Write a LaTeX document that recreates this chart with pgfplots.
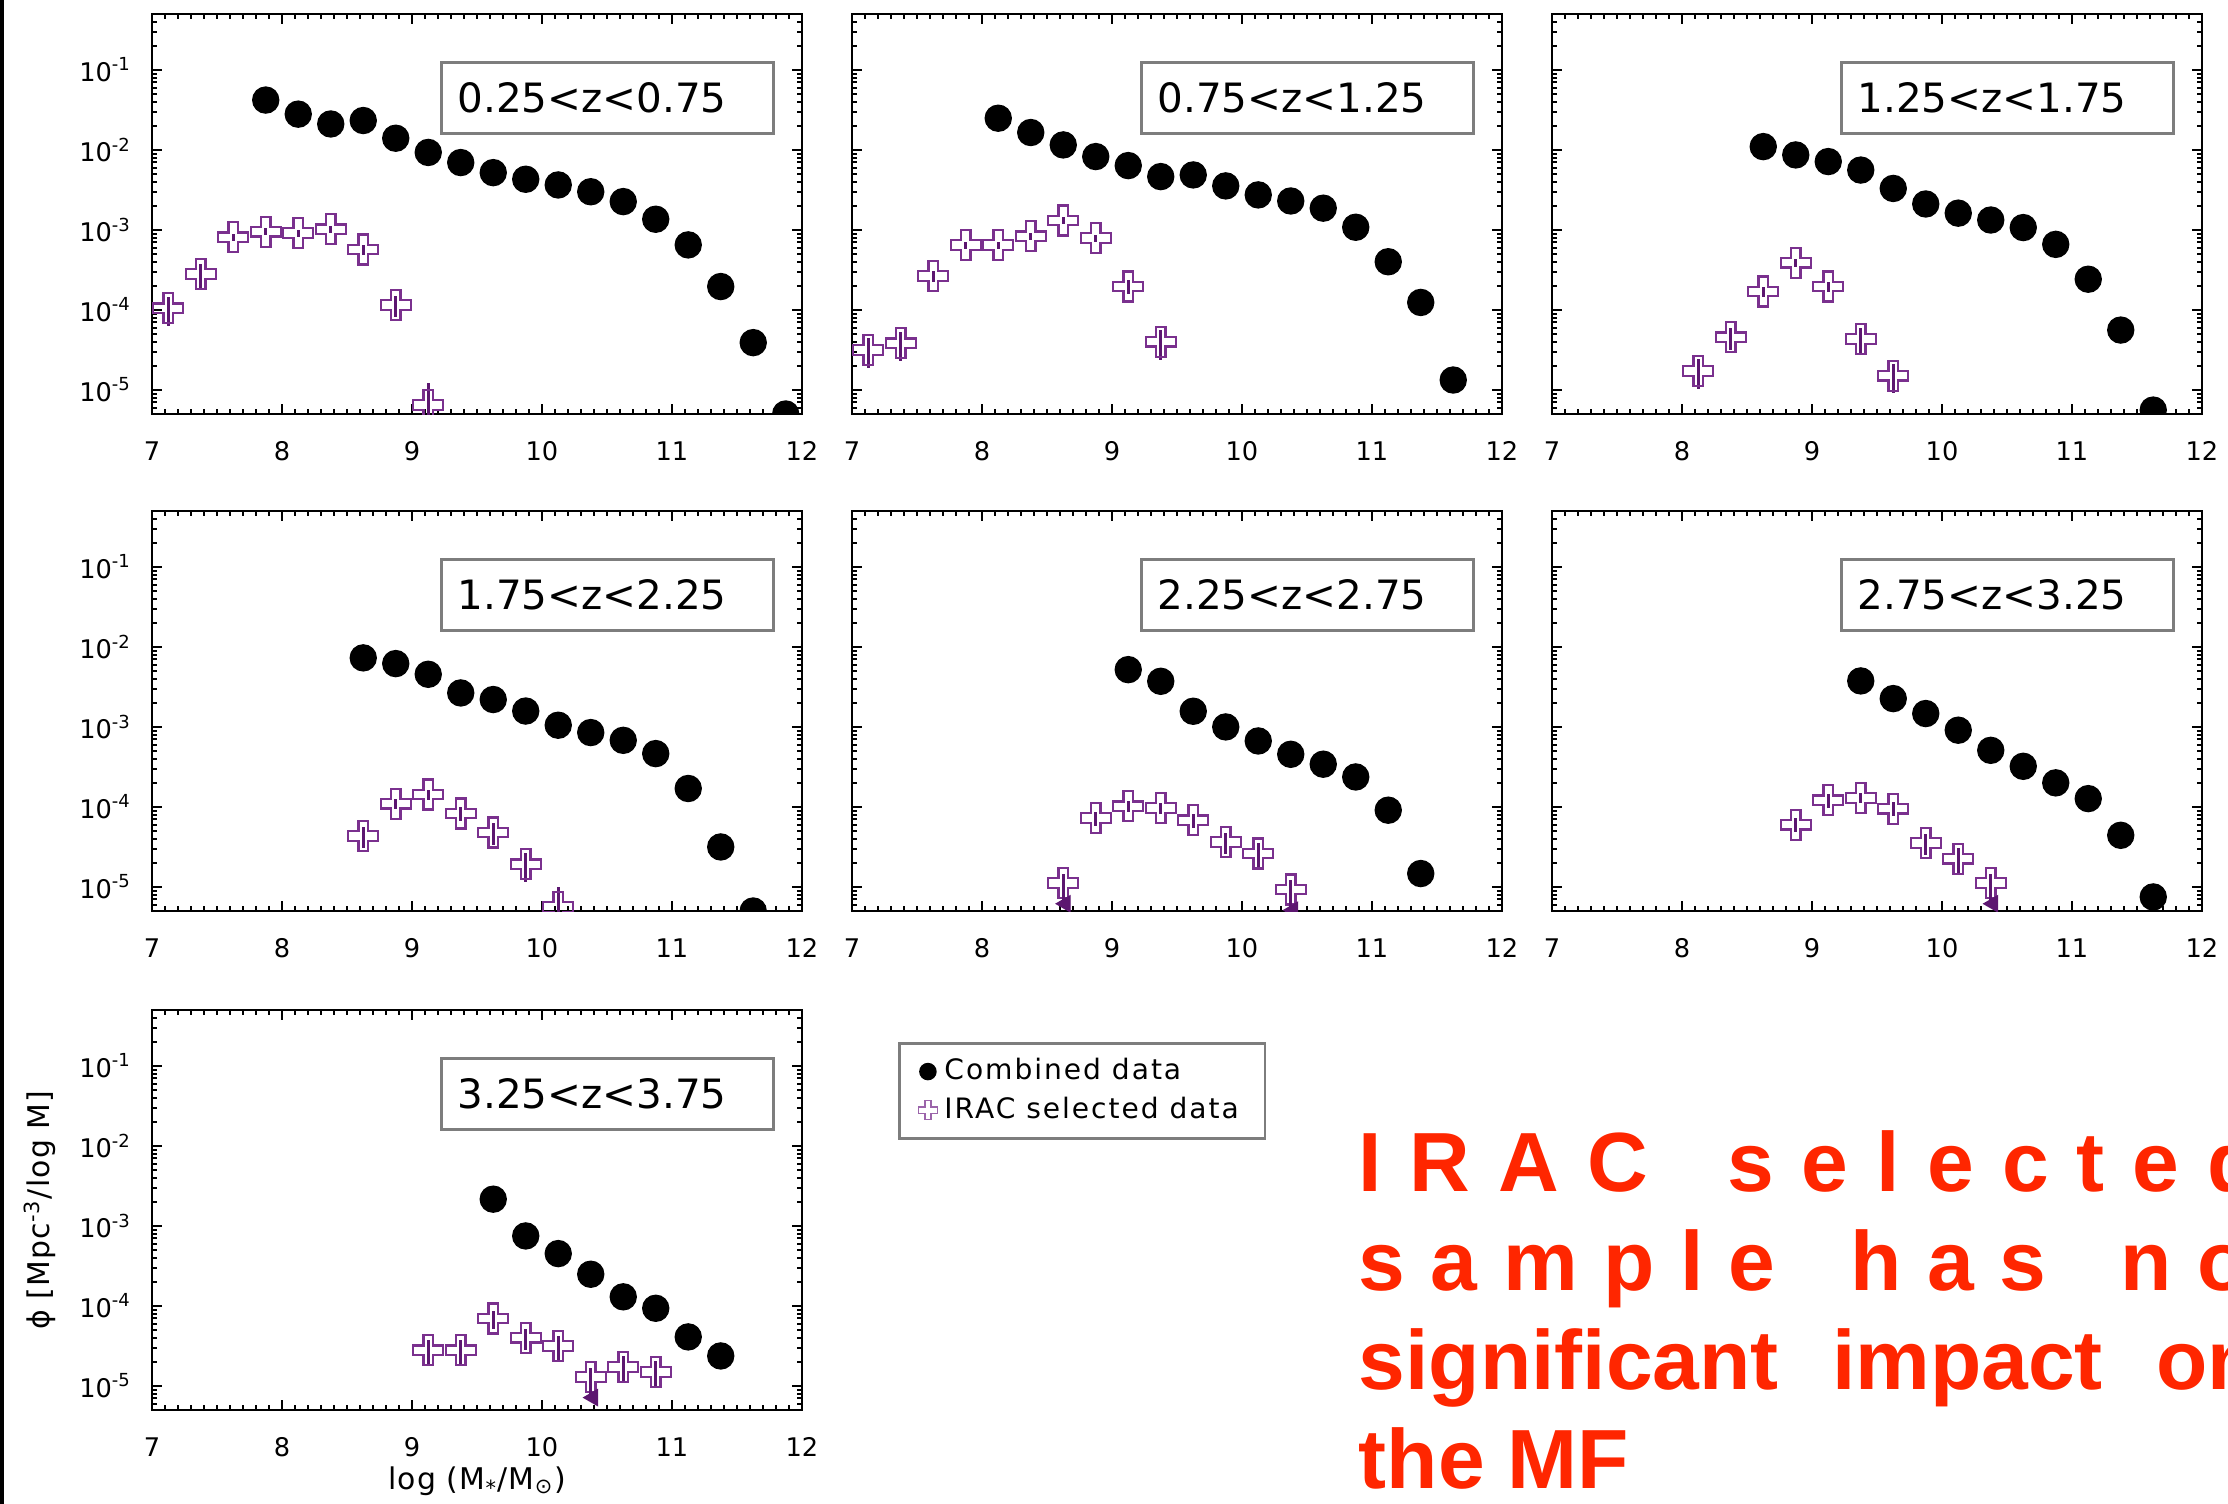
\documentclass[border=0pt]{standalone}
\usepackage{fontspec}
\setmainfont{DejaVu Sans}
\newfontfamily\redfont{Liberation Sans}
\usepackage{pgfplots}
\pgfplotsset{compat=1.18}

\definecolor{irac}{RGB}{122,48,142}
\definecolor{iracbar}{RGB}{92,22,112}
\definecolor{redtxt}{RGB}{255,38,0}
\definecolor{boxgray}{RGB}{125,125,125}

\pgfdeclareplotmark{ocross}{%
  \pgfpathmoveto{\pgfqpoint{-0.32\pgfplotmarksize}{\pgfplotmarksize}}%
  \pgfpathlineto{\pgfqpoint{0.32\pgfplotmarksize}{\pgfplotmarksize}}%
  \pgfpathlineto{\pgfqpoint{0.32\pgfplotmarksize}{0.32\pgfplotmarksize}}%
  \pgfpathlineto{\pgfqpoint{\pgfplotmarksize}{0.32\pgfplotmarksize}}%
  \pgfpathlineto{\pgfqpoint{\pgfplotmarksize}{-0.32\pgfplotmarksize}}%
  \pgfpathlineto{\pgfqpoint{0.32\pgfplotmarksize}{-0.32\pgfplotmarksize}}%
  \pgfpathlineto{\pgfqpoint{0.32\pgfplotmarksize}{-\pgfplotmarksize}}%
  \pgfpathlineto{\pgfqpoint{-0.32\pgfplotmarksize}{-\pgfplotmarksize}}%
  \pgfpathlineto{\pgfqpoint{-0.32\pgfplotmarksize}{-0.32\pgfplotmarksize}}%
  \pgfpathlineto{\pgfqpoint{-\pgfplotmarksize}{-0.32\pgfplotmarksize}}%
  \pgfpathlineto{\pgfqpoint{-\pgfplotmarksize}{0.32\pgfplotmarksize}}%
  \pgfpathlineto{\pgfqpoint{-0.32\pgfplotmarksize}{0.32\pgfplotmarksize}}%
  \pgfpathclose
  \pgfusepathqstroke
}

\newcommand\tfont{\fontsize{7.3}{8.5}\selectfont}
\newcommand\lfont{\fontsize{11.5}{13}\selectfont}
\newcommand\gfont{\fontsize{8}{9.5}\selectfont\addfontfeatures{LetterSpace=7}}
\newcommand\afont{\fontsize{8.5}{10}\selectfont\addfontfeatures{LetterSpace=4}}

\pgfplotsset{
  mypanel/.style={
    scale only axis, width=65mm, height=40mm,
    log basis y=10,
    xmin=7, xmax=12, ymin=5e-6, ymax=0.5,
    xtick={7,8,9,10,11,12}, minor x tick num=9,
    ytick={1e-5,1e-4,1e-3,1e-2,1e-1},
    minor ytick={6e-6,7e-6,8e-6,9e-6,
      2e-5,3e-5,4e-5,5e-5,6e-5,7e-5,8e-5,9e-5,
      2e-4,3e-4,4e-4,5e-4,6e-4,7e-4,8e-4,9e-4,
      2e-3,3e-3,4e-3,5e-3,6e-3,7e-3,8e-3,9e-3,
      2e-2,3e-2,4e-2,5e-2,6e-2,7e-2,8e-2,9e-2,
      2e-1,3e-1,4e-1},
    yticklabels={10\textsuperscript{-5},10\textsuperscript{-4},10\textsuperscript{-3},10\textsuperscript{-2},10\textsuperscript{-1}},
    tick align=inside, major tick length=1.0mm, minor tick length=0.5mm,
    every tick/.style={black, line width=0.2mm},
    axis line style={line width=0.25mm},
    tick label style={font=\tfont},
    xticklabel style={yshift=-1.5mm},
    yticklabel style={xshift=-0.8mm},
    clip marker paths=true,
  },
  mynoylab/.style={yticklabels={}},
  mycirc/.style={only marks, mark=*, mark size=1.3mm, mark options={fill=black, draw=black}},
  mycross/.style={only marks, mark=ocross, mark size=1.5mm,
    mark options={draw=irac, line width=0.22mm},
    error bars/y dir=both, error bars/y explicit relative, error bars/error mark=none,
    error bars/error bar style={draw=iracbar, line width=0.3mm}},
  myuplim/.style={only marks, mark=*, mark size=0pt, mark options={draw=none, fill=none}, forget plot,
    error bars/y dir=minus, error bars/y explicit relative,
    error bars/error bar style={draw=iracbar, line width=0.3mm},
    error bars/error mark=triangle*,
    error bars/error mark options={rotate=180, mark size=0.9mm, draw=iracbar, fill=iracbar}},
}
\tikzset{myzbox/.style={draw=boxgray, line width=0.25mm, anchor=north west,
    minimum height=7.1mm, text width=30mm, inner xsep=1.6mm, inner ysep=0pt,
    align=left, font=\lfont}}
\newcommand{\zlabel}[1]{\node[myzbox] at (axis description cs:0.4438,0.8825) {#1};}

\begin{document}
\begin{tikzpicture}
\fill[black] (0,0) rectangle (0.4mm,-150.4mm);

% ---------------- Panel 1
\begin{axis}[ymode=log, mypanel, /pgf/number format/assume math mode=true, at={(15.2mm,-1.4mm)}, anchor=north west]
\addplot[mycirc] table {
x y
7.875 0.042
8.125 0.028
8.375 0.0211
8.625 0.0233
8.875 0.0140
9.125 0.0093
9.375 0.00695
9.625 0.0052
9.875 0.0043
10.125 0.00365
10.375 0.0030
10.625 0.00226
10.875 0.00136
11.125 0.00065
11.375 0.000196
11.625 0.000039
11.875 0.0000050
};
\addplot[mycross] table[x=x,y=y,y error=e] {
x y e
7.125 0.000105 0.4
7.375 0.00028 0.35
7.625 0.00081 0.1
7.875 0.00095 0.1
8.125 0.00091 0.1
8.375 0.00102 0.1
8.625 0.00057 0.15
8.875 0.000115 0.3
9.125 0.0000065 0.9
};
\zlabel{0.25<z<0.75}
\end{axis}

% ---------------- Panel 2
\begin{axis}[ymode=log, mypanel, mynoylab, /pgf/number format/assume math mode=true, at={(85.2mm,-1.4mm)}, anchor=north west]
\addplot[mycirc] table {
x y
8.125 0.0249
8.375 0.0165
8.625 0.01155
8.875 0.00826
9.125 0.00637
9.375 0.00464
9.625 0.00487
9.875 0.00355
10.125 0.00274
10.375 0.0023
10.625 0.00187
10.875 0.00108
11.125 0.00040
11.375 0.000124
11.625 0.0000133
};
\addplot[mycross] table[x=x,y=y,y error=e] {
x y e
7.125 0.0000316 0.4
7.375 0.0000383 0.4
7.625 0.000266 0.15
7.875 0.00065 0.1
8.125 0.00065 0.1
8.375 0.00083 0.1
8.625 0.00131 0.1
8.875 0.00079 0.1
9.125 0.000196 0.2
9.375 0.000040 0.4
};
\zlabel{0.75<z<1.25}
\end{axis}

% ---------------- Panel 3
\begin{axis}[ymode=log, mypanel, mynoylab, /pgf/number format/assume math mode=true, at={(155.2mm,-1.4mm)}, anchor=north west]
\addplot[mycirc] table {
x y
8.625 0.0110
8.875 0.00866
9.125 0.00715
9.375 0.0056
9.625 0.0033
9.875 0.00211
10.125 0.00162
10.375 0.00133
10.625 0.00107
10.875 0.00066
11.125 0.000242
11.375 0.000056
11.625 0.0000056
};
\addplot[mycross] table[x=x,y=y,y error=e] {
x y e
8.125 0.0000173 0.4
8.375 0.0000455 0.3
8.625 0.00017 0.15
8.875 0.00039 0.12
9.125 0.000196 0.15
9.375 0.0000434 0.35
9.625 0.0000151 0.4
};
\zlabel{1.25<z<1.75}
\end{axis}

% ---------------- Panel 4
\begin{axis}[ymode=log, mypanel, /pgf/number format/assume math mode=true, at={(15.2mm,-51.1mm)}, anchor=north west]
\addplot[mycirc] table {
x y
8.625 0.0073
8.875 0.00619
9.125 0.00455
9.375 0.00266
9.625 0.0022
9.875 0.00158
10.125 0.00105
10.375 0.00085
10.625 0.00068
10.875 0.000464
11.125 0.00017
11.375 0.0000316
11.625 0.0000050
};
\addplot[mycross] table[x=x,y=y,y error=e] {
x y e
8.625 0.0000434 0.3
8.875 0.00011 0.15
9.125 0.000143 0.15
9.375 0.0000826 0.2
9.625 0.0000478 0.3
9.875 0.0000192 0.4
10.125 0.0000056 0.8
};
\zlabel{1.75<z<2.25}
\end{axis}

% ---------------- Panel 5
\begin{axis}[ymode=log, mypanel, mynoylab, /pgf/number format/assume math mode=true, at={(85.2mm,-51.1mm)}, anchor=north west]
\addplot[mycirc] table {
x y
9.125 0.0052
9.375 0.00372
9.625 0.00157
9.875 0.00100
10.125 0.000668
10.375 0.000455
10.625 0.000342
10.875 0.000237
11.125 0.000091
11.375 0.0000147
};
\addplot[mycross] table[x=x,y=y,y error=e] {
x y e
8.625 0.0000112 0.3
8.875 0.000073 0.2
9.125 0.000102 0.15
9.375 0.000097 0.15
9.625 0.000068 0.2
9.875 0.0000365 0.3
10.125 0.0000261 0.35
10.375 0.0000093 0.3
};
\addplot[myuplim] table[x=x,y=y,y error=e] {
x y e
8.625 0.0000112 0.45
10.375 0.0000093 0.45
};
\zlabel{2.25<z<2.75}
\end{axis}

% ---------------- Panel 6
\begin{axis}[ymode=log, mypanel, mynoylab, /pgf/number format/assume math mode=true, at={(155.2mm,-51.1mm)}, anchor=north west]
\addplot[mycirc] table {
x y
9.375 0.00376
9.625 0.00226
9.875 0.00147
10.125 0.00091
10.375 0.00051
10.625 0.000322
10.875 0.00020
11.125 0.000127
11.375 0.0000442
11.625 0.0000075
};
\addplot[mycross] table[x=x,y=y,y error=e] {
x y e
8.875 0.000060 0.2
9.125 0.000121 0.2
9.375 0.000130 0.15
9.625 0.000095 0.2
9.875 0.0000355 0.3
10.125 0.0000226 0.35
10.375 0.0000112 0.3
};
\addplot[myuplim] table[x=x,y=y,y error=e] {
x y e
10.375 0.0000112 0.45
};
\zlabel{2.75<z<3.25}
\end{axis}

% ---------------- Panel 7
\begin{axis}[ymode=log, mypanel, /pgf/number format/assume math mode=true, at={(15.2mm,-101.0mm)}, anchor=north west,
  xlabel={log (M\textsubscript{*}/M\textsubscript{⊙})},
  ylabel={ϕ [Mpc\textsuperscript{-3}/log M]},
  xlabel style={at={(axis description cs:0.5,-0.178)}, anchor=center, font=\afont},
  ylabel style={at={(axis description cs:-0.1726,0.5)}, anchor=center, font=\afont},
  legend style={at={(axis description cs:1.148,0.92)}, anchor=north west,
    draw=boxgray, line width=0.25mm, font=\gfont, inner xsep=1.9mm, inner ysep=0.9mm,
    nodes={inner ysep=0.6mm}, cells={anchor=west}, row sep=0pt},
]
\addlegendimage{legend image code/.code={\draw[only marks, mark=*, mark size=0.75mm, mark options={fill=black,draw=black}] plot coordinates {(0mm,0mm)};}}
\addlegendimage{legend image code/.code={\draw[only marks, mark=ocross, mark size=0.95mm, mark options={draw=irac!75, line width=0.15mm}] plot coordinates {(0mm,0mm)};}}
\addplot[mycirc] table {
x y
9.625 0.00216
9.875 0.00075
10.125 0.000451
10.375 0.000249
10.625 0.000130
10.875 0.0000935
11.125 0.000041
11.375 0.0000237
};
\addplot[mycross] table[x=x,y=y,y error=e] {
x y e
9.125 0.0000279 0.35
9.375 0.0000279 0.35
9.625 0.0000695 0.25
9.875 0.000040 0.3
10.125 0.0000316 0.35
10.375 0.000013 0.3
10.625 0.0000173 0.37
10.875 0.000015 0.37
};
\addplot[myuplim] table[x=x,y=y,y error=e] {
x y e
10.375 0.000013 0.45
};
\legend{Combined data, IRAC selected data}
\zlabel{3.25<z<3.75}
\end{axis}

% ---------------- Red statement
\begin{scope}[every node/.style={anchor=base west, inner sep=0pt, text=redtxt,
    font=\redfont\bfseries\fontsize{23.9}{28}\selectfont}]
\node at (135.8mm,-119.1mm) {\hbox to 90mm{I\hfill R\hfill A\hfill C\hfill\hspace{0.28em}\hfill s\hfill e\hfill l\hfill e\hfill c\hfill t\hfill e\hfill d}};
\node at (135.8mm,-129.0mm) {\hbox to 89mm{s\hfill a\hfill m\hfill p\hfill l\hfill e\hfill\hspace{0.28em}\hfill h\hfill a\hfill s\hfill\hspace{0.28em}\hfill n\hfill o}};
\node at (135.8mm,-138.9mm) {\hbox to 90mm{significant\hfill impact\hfill on}};
\node at (135.8mm,-148.8mm) {the MF};
\end{scope}

\pgfresetboundingbox
\useasboundingbox (0,0) rectangle (222.8mm,-150.4mm);
\end{tikzpicture}
\end{document}
